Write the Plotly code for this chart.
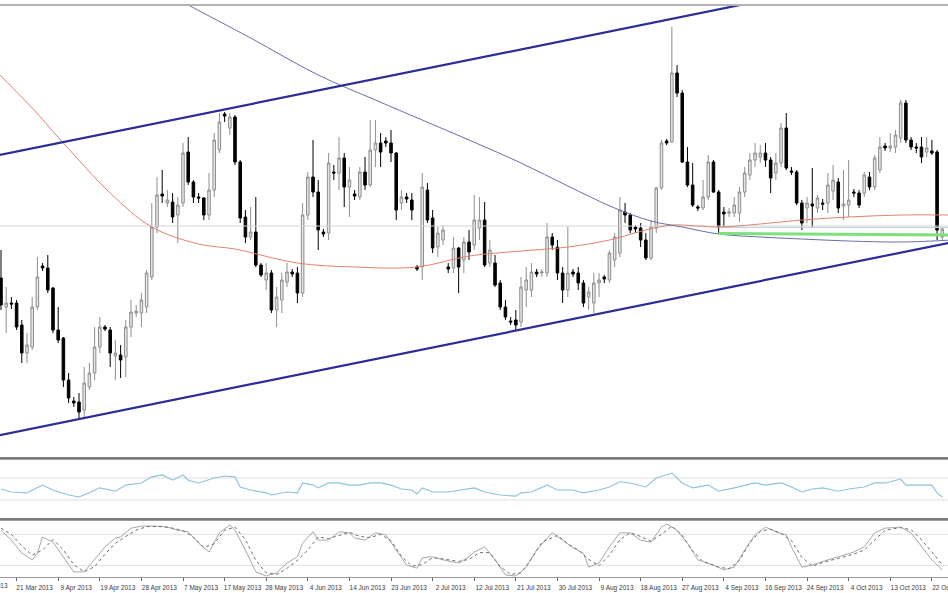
import plotly.graph_objects as go

# ---------------- data ----------------
bars = list(range(182))
opens = [3.177,3.148,3.152,3.152,3.130,3.102,3.108,3.148,3.189,3.187,3.167,3.125,3.117,3.075,3.054,3.053,3.045,3.068,3.082,3.108,
         3.128,3.125,3.099,3.100,3.098,3.128,3.142,3.142,3.148,3.178,3.228,3.261,3.252,3.253,3.240,3.252,3.303,3.273,3.258,3.257,
         3.240,3.265,3.305,3.341,3.327,3.338,3.293,3.238,3.218,3.223,3.190,3.175,3.182,3.145,3.155,3.173,3.183,3.182,3.162,3.240,
         3.278,3.263,3.223,3.222,3.283,3.282,3.297,3.268,3.261,3.258,3.283,3.270,3.305,3.312,3.314,3.312,3.302,3.252,3.258,3.255,
         3.188,3.188,3.265,3.237,3.208,3.215,3.188,3.187,3.207,3.195,3.213,3.210,3.227,3.235,3.192,3.192,3.172,3.148,3.134,3.135,
         3.133,3.165,3.165,3.183,3.182,3.182,3.218,3.208,3.182,3.165,3.183,3.182,3.172,3.158,3.152,3.172,3.178,3.175,3.195,3.202,
         3.243,3.240,3.228,3.227,3.215,3.197,3.227,3.267,3.314,3.313,3.382,3.362,3.293,3.270,3.248,3.247,3.258,3.293,3.263,3.243,
         3.242,3.242,3.242,3.263,3.280,3.295,3.298,3.302,3.295,3.282,3.292,3.327,3.284,3.283,3.252,3.247,3.251,3.247,3.252,3.252,
         3.264,3.273,3.249,3.250,3.263,3.262,3.262,3.278,3.268,3.285,3.309,3.307,3.308,3.317,3.352,3.315,3.308,3.308,3.303,3.304,
         3.303,3.218]
highs = [3.205,3.168,3.158,3.155,3.135,3.122,3.158,3.198,3.192,3.200,3.168,3.148,3.118,3.082,3.058,3.062,3.088,3.092,3.128,3.138,
         3.130,3.128,3.115,3.110,3.135,3.155,3.150,3.162,3.185,3.252,3.278,3.285,3.265,3.262,3.258,3.312,3.318,3.275,3.262,3.258,
         3.282,3.322,3.342,3.343,3.342,3.340,3.295,3.245,3.248,3.258,3.192,3.192,3.185,3.168,3.182,3.192,3.186,3.188,3.252,3.283,
         3.315,3.275,3.226,3.302,3.290,3.318,3.302,3.288,3.265,3.288,3.298,3.335,3.335,3.322,3.318,3.325,3.303,3.265,3.262,3.262,
         3.190,3.282,3.272,3.245,3.228,3.230,3.192,3.218,3.208,3.218,3.225,3.260,3.258,3.253,3.215,3.200,3.175,3.155,3.138,3.145,
         3.178,3.188,3.192,3.186,3.186,3.232,3.222,3.215,3.188,3.228,3.186,3.188,3.175,3.168,3.182,3.182,3.180,3.205,3.222,3.258,
         3.252,3.242,3.230,3.232,3.222,3.235,3.268,3.315,3.316,3.428,3.390,3.365,3.308,3.292,3.250,3.275,3.300,3.295,3.265,3.248,
         3.247,3.258,3.268,3.288,3.302,3.312,3.310,3.312,3.298,3.302,3.332,3.342,3.288,3.285,3.255,3.258,3.287,3.260,3.256,3.282,
         3.290,3.277,3.285,3.295,3.266,3.265,3.283,3.283,3.300,3.318,3.312,3.322,3.325,3.355,3.355,3.318,3.312,3.318,3.318,3.315,
         3.305,3.228]
lows = [3.145,3.122,3.146,3.125,3.092,3.092,3.105,3.145,3.184,3.162,3.122,3.112,3.068,3.052,3.048,3.035,3.037,3.065,3.075,3.102,
        3.124,3.088,3.075,3.077,3.078,3.118,3.138,3.128,3.142,3.175,3.222,3.252,3.248,3.232,3.212,3.248,3.270,3.252,3.252,3.235,
        3.235,3.258,3.302,3.333,3.320,3.290,3.232,3.212,3.215,3.188,3.178,3.165,3.142,3.128,3.142,3.168,3.178,3.152,3.158,3.235,
        3.258,3.205,3.218,3.215,3.275,3.265,3.248,3.238,3.255,3.255,3.265,3.268,3.288,3.288,3.308,3.293,3.235,3.245,3.252,3.235,
        3.184,3.175,3.232,3.202,3.198,3.210,3.182,3.182,3.162,3.182,3.195,3.205,3.215,3.188,3.188,3.168,3.145,3.135,3.130,3.125,
        3.128,3.148,3.158,3.178,3.178,3.178,3.205,3.175,3.152,3.158,3.178,3.165,3.148,3.145,3.142,3.158,3.172,3.172,3.188,3.198,
        3.232,3.222,3.222,3.208,3.195,3.195,3.222,3.265,3.310,3.312,3.358,3.292,3.268,3.248,3.244,3.245,3.255,3.262,3.222,3.228,
        3.238,3.238,3.233,3.258,3.275,3.288,3.292,3.288,3.262,3.275,3.288,3.285,3.280,3.250,3.225,3.232,3.228,3.242,3.245,3.242,
        3.255,3.242,3.235,3.238,3.258,3.247,3.258,3.265,3.265,3.282,3.304,3.303,3.302,3.312,3.312,3.305,3.302,3.292,3.298,3.300,
        3.215,3.215]
closes = [3.150,3.152,3.151,3.128,3.102,3.110,3.148,3.178,3.187,3.165,3.125,3.115,3.075,3.057,3.052,3.043,3.072,3.082,3.108,3.128,
          3.126,3.102,3.102,3.095,3.128,3.143,3.144,3.155,3.182,3.228,3.260,3.259,3.255,3.238,3.250,3.302,3.273,3.258,3.257,3.240,
          3.265,3.315,3.333,3.339,3.338,3.293,3.237,3.218,3.223,3.190,3.180,3.182,3.145,3.158,3.175,3.183,3.181,3.162,3.240,3.278,
          3.263,3.225,3.221,3.292,3.282,3.297,3.268,3.275,3.259,3.283,3.270,3.305,3.312,3.303,3.312,3.302,3.245,3.258,3.256,3.245,
          3.186,3.268,3.235,3.207,3.222,3.225,3.186,3.207,3.188,3.213,3.203,3.235,3.235,3.190,3.205,3.170,3.148,3.138,3.133,3.130,
          3.168,3.175,3.183,3.181,3.183,3.218,3.210,3.182,3.165,3.182,3.181,3.172,3.152,3.163,3.172,3.175,3.176,3.202,3.218,3.245,
          3.240,3.225,3.226,3.215,3.197,3.228,3.267,3.312,3.312,3.382,3.362,3.293,3.270,3.250,3.247,3.258,3.293,3.263,3.228,3.241,
          3.243,3.250,3.263,3.282,3.295,3.302,3.302,3.295,3.277,3.292,3.327,3.287,3.283,3.252,3.232,3.252,3.249,3.257,3.251,3.270,
          3.275,3.247,3.251,3.255,3.262,3.250,3.280,3.268,3.297,3.308,3.307,3.309,3.320,3.352,3.315,3.308,3.307,3.298,3.307,3.302,
          3.225,3.226]

# moving averages (sampled along the drawn curves)
ma_red_bars = [-1, 6, 12, 21, 29, 38, 45, 57, 68, 80, 90, 100, 109, 117, 124, 129, 134, 138, 146, 154, 163, 173, 183]
ma_red_vals = [3.384, 3.347, 3.312, 3.262, 3.228, 3.211, 3.206, 3.192, 3.188, 3.188, 3.199, 3.204, 3.208, 3.215,
               3.225, 3.230, 3.229, 3.228, 3.231, 3.235, 3.238, 3.240, 3.240]
ma_blue_bars = [28, 36, 48, 61, 72, 81, 90, 100, 109, 118, 125, 131, 138, 146, 154, 163, 173, 183]
ma_blue_vals = [3.472, 3.450, 3.417, 3.380, 3.355, 3.335, 3.315, 3.292, 3.269, 3.247, 3.234, 3.228, 3.221,
                3.218, 3.216, 3.214, 3.213, 3.215]

# trend channel and horizontal levels
channel_bars = [-1, 183]
channel_upper = [3.2992, 3.4931]
channel_lower = [3.0191, 3.2129]
green_bars = [138, 183]
green_vals = [3.2215, 3.2200]
level_price = 3.229
level_blue = 3.2275

# RSI panel
rsi_bars = [0,2,5,8,10,13,15,17,19,22,24,27,29,31,33,35,36,38,41,43,45,46,48,51,52,55,57,58,60,61,63,65,67,69,71,73,75,77,79,80,
            81,83,86,88,91,93,96,99,100,102,105,107,110,112,115,117,119,121,124,126,128,129,131,133,136,138,141,145,147,150,
            152,154,156,158,161,163,166,168,170,173,174,177,179,180,181]
rsi_vals = [50,44.5,43,57,48,39,35.5,43,52,46,57,61,72,75.5,66,75.5,66,61,70,73.6,72,53.6,48,43,39,44.5,43,61,57,52,
            61,61,57,57,61,61,57,50,48,41,52,44.5,44.5,48,52,44.5,39,37,43,44.5,57,48,48,43,48,53.6,63,61,53.6,70,
            75.5,79,61,52,57,46,52,61,57,61,53.6,44.5,50,52,46,50,53.6,61,61,68,57,57,57,43,35.5]
rsi_levels = [70, 30]

# Stochastic panel
stoch_k_bars = [0,2,4,6,7,8,10,12,14,16,18,20,22,23,25,27,30,32,34,36,38,40,42,44,45,47,49,51,53,55,57,58,60,61,63,65,67,68,70,72,
                74,76,78,80,81,83,85,88,90,91,93,95,97,99,101,103,106,108,110,112,113,115,117,119,121,123,125,127,128,130,
                132,134,137,139,141,143,145,147,149,151,152,154,156,159,161,164,166,168,170,173,175,177,179,181]
stoch_k_vals = [88,69,44,31,44,75,65,37,8,8,31,56,73,75,92,96,96,94,88,85,63,46,83,98,88,50,8,0,6,25,37,63,85,69,69,85,83,73,69,83,
                79,50,21,15,35,37,31,25,37,46,56,31,2,0,17,50,83,69,54,44,17,25,56,83,83,69,65,94,100,88,
                63,31,21,12,17,50,79,94,85,79,56,17,21,31,37,46,56,83,92,94,83,56,31,12]
stoch_d_bars = [0,2,4,6,8,10,12,14,16,18,20,22,24,26,28,31,33,35,37,39,41,43,45,47,49,51,53,55,57,59,61,63,65,67,69,71,73,75,77,79,
                81,83,85,88,90,92,94,96,98,100,102,104,107,109,111,113,115,117,119,121,123,125,127,129,131,133,135,138,140,142,
                144,146,148,150,152,154,156,158,161,164,166,168,170,173,175,177,179,181]
stoch_d_vals = [92,80,58,40,50,70,50,22,8,18,42,63,76,88,95,95,92,87,75,55,62,88,94,70,30,6,3,15,30,50,75,72,78,84,76,74,80,68,38,19,
                22,35,33,28,32,45,45,18,3,6,33,65,78,62,50,32,20,40,70,83,76,67,80,96,78,48,28,17,14,30,
                64,86,90,82,68,36,19,26,34,42,50,70,88,93,89,70,45,22]
stoch_levels = [80, 20]

# x-axis ticks
tick_bars = [3, 11, 19, 27, 35, 43, 51, 59, 67, 75, 83, 91, 99, 107, 115, 123, 131, 139, 147, 155, 163, 171, 179]
tick_labels = ["21 Mar 2013", "9 Apr 2013", "19 Apr 2013", "28 Apr 2013", "7 May 2013", "17 May 2013", "28 May 2013",
               "4 Jun 2013", "14 Jun 2013", "23 Jun 2013", "2 Jul 2013", "12 Jul 2013", "21 Jul 2013", "30 Jul 2013",
               "9 Aug 2013", "18 Aug 2013", "27 Aug 2013", "4 Sep 2013", "16 Sep 2013", "24 Sep 2013", "4 Oct 2013",
               "13 Oct 2013", "22 Oct 2013"]

# ---------------- figure ----------------
fig = go.Figure()

fig.add_trace(go.Scatter(x=[-1, 183], y=[level_price, level_price], mode="lines",
                         line=dict(color="#d4d4d4", width=1), xaxis="x", yaxis="y"))
fig.add_trace(go.Scatter(x=[green_bars[0], green_bars[1]], y=[level_blue, level_blue], mode="lines",
                         line=dict(color="#bcd6ee", width=1), xaxis="x", yaxis="y"))
fig.add_trace(go.Scatter(x=ma_red_bars, y=ma_red_vals, mode="lines", line=dict(color="#e2826f", width=1, shape="spline"),
                         xaxis="x", yaxis="y"))
fig.add_trace(go.Scatter(x=ma_blue_bars, y=ma_blue_vals, mode="lines", line=dict(color="#6b6ea8", width=1, shape="spline"),
                         xaxis="x", yaxis="y"))
fig.add_trace(go.Scatter(x=green_bars, y=green_vals, mode="lines", line=dict(color="#7ee07a", width=3),
                         xaxis="x", yaxis="y"))

fig.add_trace(go.Candlestick(
    x=bars, open=opens, high=highs, low=lows, close=closes,
    increasing=dict(line=dict(color="#8e8e8e", width=1), fillcolor="#e4e4e4"),
    decreasing=dict(line=dict(color="#000000", width=1), fillcolor="#000000"),
    whiskerwidth=0, xaxis="x", yaxis="y"))

fig.add_trace(go.Scatter(x=channel_bars, y=channel_upper, mode="lines", line=dict(color="#2c2c98", width=2.2),
                         xaxis="x", yaxis="y"))
fig.add_trace(go.Scatter(x=channel_bars, y=channel_lower, mode="lines", line=dict(color="#2c2c98", width=2.2),
                         xaxis="x", yaxis="y"))

for lv in rsi_levels:
    fig.add_trace(go.Scatter(x=[-1, 183], y=[lv, lv], mode="lines", line=dict(color="#dedede", width=1),
                             xaxis="x2", yaxis="y2"))
fig.add_trace(go.Scatter(x=rsi_bars, y=rsi_vals, mode="lines", line=dict(color="#8cc3de", width=1.1),
                         xaxis="x2", yaxis="y2"))

for lv in stoch_levels:
    fig.add_trace(go.Scatter(x=[-1, 183], y=[lv, lv], mode="lines", line=dict(color="#e2e2e2", width=1),
                             xaxis="x3", yaxis="y3"))
fig.add_trace(go.Scatter(x=stoch_k_bars, y=stoch_k_vals, mode="lines", line=dict(color="#a8a8a8", width=1),
                         xaxis="x3", yaxis="y3"))
fig.add_trace(go.Scatter(x=stoch_d_bars, y=stoch_d_vals, mode="lines", line=dict(color="#7a6a6a", width=1, dash="dot"),
                         xaxis="x3", yaxis="y3"))

xr = [-0.19, 182.1]
hidden_x = dict(range=xr, showticklabels=False, showgrid=False, zeroline=False, showline=False, ticks="",
                rangeslider=dict(visible=False), fixedrange=True, automargin=False)
hidden_y = dict(showticklabels=False, showgrid=False, zeroline=False, showline=False, ticks="", fixedrange=True,
                automargin=False)
lab_font = dict(family="Liberation Sans, Arial, sans-serif", size=6.5, color="#3a3a3a")

fig.update_layout(
    width=948, height=593,
    margin=dict(l=0, r=0, t=0, b=16, autoexpand=False),
    paper_bgcolor="white", plot_bgcolor="white",
    showlegend=False, hovermode=False,
    xaxis=dict(hidden_x, domain=[0, 1], anchor="y"),
    xaxis2=dict(hidden_x, domain=[0, 1], anchor="y2", matches="x"),
    xaxis3=dict(range=xr, domain=[0, 1], anchor="y3", matches="x",
                tickmode="array", tickvals=tick_bars, ticktext=tick_labels, tickangle=0,
                ticks="outside", ticklen=3, tickcolor="#666", tickwidth=1,
                ticklabelshift=18, ticklabelstandoff=1, ticklabeloverflow="allow", automargin=False,
                tickfont=lab_font,
                showline=True, linecolor="#9a9a9a", linewidth=1,
                showgrid=False, zeroline=False, rangeslider=dict(visible=False), fixedrange=True),
    yaxis=dict(hidden_y, domain=[0.2114, 0.9913], range=[3.0, 3.45]),
    yaxis2=dict(hidden_y, domain=[0.1023, 0.2028], range=[-2.7, 102.7]),
    yaxis3=dict(hidden_y, domain=[0.0, 0.0971], range=[-1.9, 105.8]),
    shapes=[
        dict(type="line", xref="paper", yref="paper", x0=0, x1=1, y0=0.9913, y1=0.9913,
             line=dict(color="#b4b4b4", width=2)),
        dict(type="rect", xref="paper", yref="paper", x0=0, x1=1, y0=0.2030, y1=0.2080,
             fillcolor="#7c7c7c", line=dict(width=0)),
        dict(type="rect", xref="paper", yref="paper", x0=0, x1=1, y0=0.0973, y1=0.1023,
             fillcolor="#7c7c7c", line=dict(width=0)),
    ],
    annotations=[
        dict(text="12 Mar 2013", xref="paper", yref="paper", x=0.0106, y=-0.006, xanchor="right", yanchor="top",
             showarrow=False, font=lab_font),
    ],
)

fig.write_html("out.html", config={"displayModeBar": False},
               post_script="document.body.style.margin='0';document.body.style.overflow='hidden';")
